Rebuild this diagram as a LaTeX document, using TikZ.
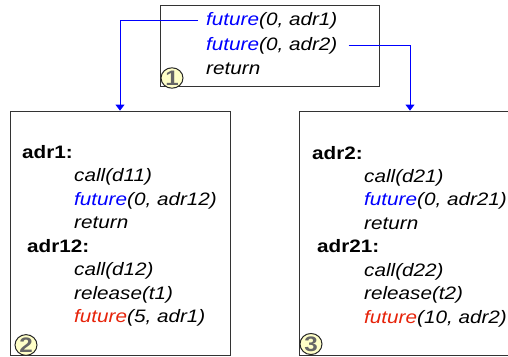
\documentclass[tikz,border=0pt]{standalone}
\usepackage{fontspec}
\setmainfont{Liberation Sans}[FakeStretch=1.15]
\usepackage{tikz}
\usetikzlibrary{arrows.meta}
\usetikzlibrary{shapes.geometric}
\definecolor{futblue}{RGB}{0,0,255}
\definecolor{futred}{RGB}{230,35,10}
\definecolor{tagfill}{RGB}{255,255,200}
\newcommand{\fut}[1]{\textcolor{#1}{future}}

\begin{document}
\begin{tikzpicture}[x=1pt,y=-1pt,
   every node/.style={font=\fontsize{18}{22}\selectfont\itshape,inner sep=0pt},
   code/.style={anchor=base west},
   lbl/.style={anchor=base west,font=\fontsize{18}{22}\selectfont\bfseries},
   box/.style={draw=black!80,line width=0.8pt,rectangle},
   tag/.style={ellipse,draw=black!85,line width=1pt,fill=tagfill,
      minimum width=22pt,minimum height=18pt,text=black!60,
      font=\fontsize{21}{21}\selectfont\bfseries},
   spawn/.style={futblue,line width=0.8pt,-{Triangle[width=9pt,length=6pt]}}]
\clip (0,0) rectangle (508,356);
% the three frames
\node[box,minimum width=219pt,minimum height=81pt] (b1) at (269.5,45.5) {};
\node[box,minimum width=220pt,minimum height=244pt] (b2) at (120,233) {};
\node[box,minimum width=222pt,minimum height=244pt] (b3) at (410,233) {};
% frame 1
\node[code] (f1) at (206,25) {\fut{futblue}(0, adr1)};
\node[code] (f2) at (206,50) {\fut{futblue}(0, adr2)};
\node[code] (r1) at (206,74) {return};
\node[tag] (t1) at (172,78) {1};
% frame 2
\node[lbl] (a1) at (22,158) {adr1:};
\node[code] (c11) at (74,181.5) {call(d11)};
\node[code] (f12) at (74,205) {\fut{futblue}(0, adr12)};
\node[code] (r2) at (74,228.5) {return};
\node[lbl] (a12) at (27,252) {adr12:};
\node[code] (c12) at (74,275.5) {call(d12)};
\node[code] (rel1) at (74,299) {release(t1)};
\node[code] (f51) at (74,322.5) {\fut{futred}(5, adr1)};
\node[tag] (t2) at (26,345) {2};
% frame 3
\node[lbl] (a2) at (312,159) {adr2:};
\node[code] (c21) at (364,182) {call(d21)};
\node[code] (f21) at (364,205.5) {\fut{futblue}(0, adr21)};
\node[code] (r3) at (364,229) {return};
\node[lbl] (a21) at (317,252.5) {adr21:};
\node[code] (c22) at (364,276) {call(d22)};
\node[code] (rel2) at (364,299.5) {release(t2)};
\node[code] (f102) at (364,323) {\fut{futred}(10, adr2)};
\node[tag] (t3) at (311,344) {3};
% spawned tasks
\draw[spawn] ([xshift=-8pt]f1.west) -| (b2.north);
\draw[spawn] ([xshift=11pt]f2.east) -| (b3.north);
\end{tikzpicture}
\end{document}
